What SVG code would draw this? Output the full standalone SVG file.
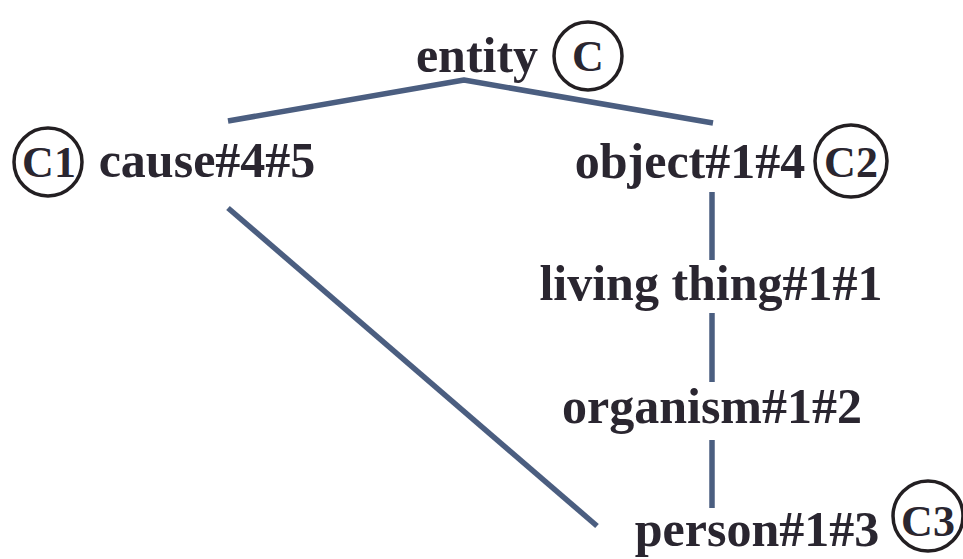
<svg xmlns="http://www.w3.org/2000/svg" width="963" height="559" viewBox="0 0 963 559">
  <style>
    .term { font-family: "Liberation Serif", "Times New Roman", serif; font-weight: bold; font-size: 50px; fill: #2a2630; text-anchor: middle; }
    .tag { font-family: "Liberation Serif", "Times New Roman", serif; font-weight: bold; font-size: 44px; fill: #2a2630; text-anchor: middle; }
    .ring { fill: none; stroke: #231f22; stroke-width: 3.5; }
    .edge { fill: none; stroke: #4b5e80; stroke-width: 5.5; stroke-linecap: butt; stroke-linejoin: round; }
  </style>
  <rect width="963" height="559" fill="#ffffff"/>

  <!-- hierarchy edges -->
  <g id="connectors">
    <polyline class="edge" points="228,121 464,80 713,123"/>
    <line class="edge" x1="228" y1="208" x2="597" y2="526"/>
    <line class="edge" x1="712" y1="192" x2="712" y2="260"/>
    <line class="edge" x1="712" y1="313" x2="712" y2="382"/>
    <line class="edge" x1="712" y1="440" x2="712" y2="508"/>
  </g>

  <g id="entity">
    <text class="term" x="477" y="72">entity</text>
    <circle class="ring" cx="588" cy="56" r="34"/>
    <text class="tag" x="588" y="71">C</text>
  </g>

  <g id="cause">
    <circle class="ring" cx="48" cy="162" r="34"/>
    <text class="tag" x="49" y="177">C1</text>
    <text class="term" x="207" y="177">cause#4#5</text>
  </g>

  <g id="object">
    <text class="term" x="690" y="178">object#1#4</text>
    <circle class="ring" cx="851" cy="161" r="36"/>
    <text class="tag" x="851" y="177">C2</text>
  </g>

  <g id="living-thing">
    <text class="term" x="711" y="300">living thing#1#1</text>
  </g>

  <g id="organism">
    <text class="term" x="712" y="423">organism#1#2</text>
  </g>

  <g id="person">
    <text class="term" x="757" y="546">person#1#3</text>
    <circle class="ring" cx="928" cy="516" r="35"/>
    <text class="tag" x="928" y="536">C3</text>
  </g>
</svg>
